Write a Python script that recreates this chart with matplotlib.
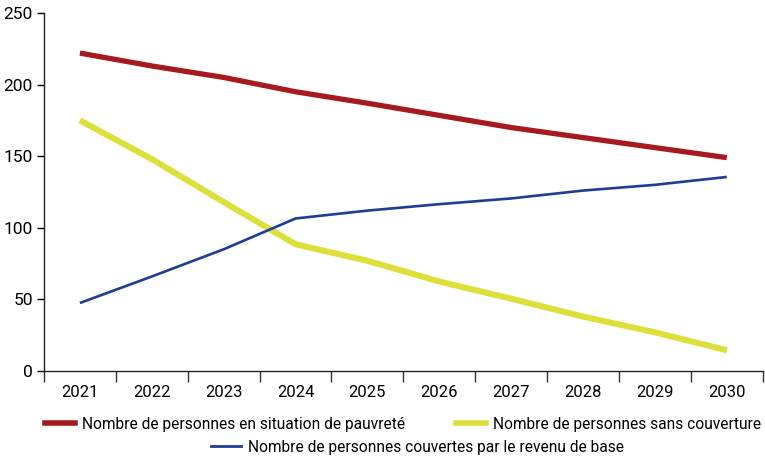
import matplotlib.pyplot as plt
from matplotlib.lines import Line2D

years = ["2021", "2022", "2023", "2024", "2025", "2026", "2027", "2028", "2029", "2030"]
pauvrete = [222, 213, 205, 195, 187, 178.5, 170, 163, 156, 149]
sans_couverture = [175, 148, 118, 88.5, 77, 62.5, 50.5, 38, 27, 14.5]
couverts = [47.5, 66, 85, 106.5, 112, 116.5, 120.5, 126, 130, 135.5]

red = "#A8191E"
yellow = "#DDE03A"
blue = "#1F3C96"

plt.rcParams['font.family'] = ['Roboto', 'DejaVu Sans']

fig = plt.figure(figsize=(7.65, 4.59), dpi=100)
ax = fig.add_axes([0.0575, 0.1917, 0.9395, 0.78])

x = list(range(len(years)))
ax.plot(x, pauvrete, color=red, lw=3.8, solid_capstyle='butt')
ax.plot(x, sans_couverture, color=yellow, lw=4.4, solid_capstyle='butt')
ax.plot(x, couverts, color=blue, lw=1.9, solid_capstyle='butt')

ax.set_xlim(-0.5, len(years) - 0.5)
ax.set_ylim(0, 250)
ax.set_yticks(range(0, 251, 50))

ax.set_xticks([i - 0.5 for i in range(len(years) + 1)])
ax.set_xticklabels([])
ax.set_xticks(x, minor=True)
ax.set_xticklabels(years, minor=True, fontsize=12)
ax.tick_params(axis='x', which='major', direction='out', length=8, width=1, color='#333333')
ax.tick_params(axis='x', which='minor', length=0, pad=10)
ax.tick_params(axis='y', direction='out', length=5, width=1, labelsize=12.5, pad=3)

for s in ['top', 'right']:
    ax.spines[s].set_visible(False)
for s in ['left', 'bottom']:
    ax.spines[s].set_linewidth(1)
    ax.spines[s].set_color('#222222')

h1 = [Line2D([], [], color=red, lw=4),
      Line2D([], [], color=yellow, lw=4)]
fig.legend(h1, ["Nombre de personnes en situation de pauvreté",
                "Nombre de personnes sans couverture"],
           loc='center', bbox_to_anchor=(0.527, 0.076), ncol=2, frameon=False,
           fontsize=11.2, handlelength=1.9, columnspacing=3.3, handletextpad=0.45,
           borderpad=0, borderaxespad=0)
h2 = [Line2D([], [], color=blue, lw=2)]
fig.legend(h2, ["Nombre de personnes couvertes par le revenu de base"],
           loc='center', bbox_to_anchor=(0.546, 0.026), frameon=False,
           fontsize=11.2, handlelength=1.9, handletextpad=0.45,
           borderpad=0, borderaxespad=0)

fig.savefig("out.png", dpi=100)
